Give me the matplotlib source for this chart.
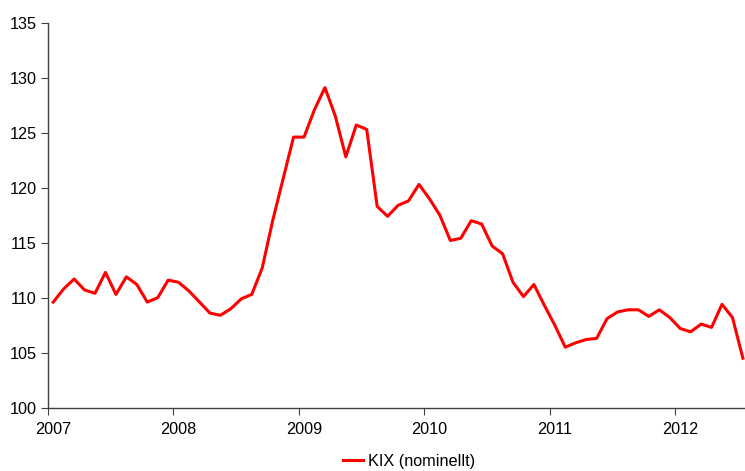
import matplotlib
matplotlib.use("Agg")
import matplotlib.pyplot as plt
import numpy as np

plt.rcParams["font.family"] = ["Liberation Sans", "DejaVu Sans"]

# Månadsvärden jan 2007 - jul 2012
kix = [
    109.6, 110.8, 111.7, 110.7, 110.4, 112.3, 110.3, 111.9, 111.2, 109.6, 110.0, 111.6,
    111.4, 110.6, 109.6, 108.6, 108.4, 109.0, 109.9, 110.3, 112.7, 117.0, 120.8, 124.6,
    124.6, 127.1, 129.1, 126.5, 122.8, 125.7, 125.3, 118.3, 117.4, 118.4, 118.8, 120.3,
    119.0, 117.5, 115.2, 115.4, 117.0, 116.7, 114.7, 114.0, 111.4, 110.1, 111.2, 109.3,
    107.5, 105.5, 105.9, 106.2, 106.3, 108.1, 108.7, 108.9, 108.9, 108.3, 108.9, 108.2,
    107.2, 106.9, 107.6, 107.3, 109.4, 108.2, 104.5,
]
years = ["2007", "2008", "2009", "2010", "2011", "2012"]
y_ticks = [100, 105, 110, 115, 120, 125, 130, 135]

x = np.arange(len(kix)) + 0.5

fig = plt.figure(figsize=(7.45, 4.71), dpi=100)
ax = fig.add_axes([48 / 745, (471 - 407.7) / 471, 1 - 48 / 745, (407.7 - 22.7) / 471])

ax.plot(x, kix, color="#ff0000", linewidth=2.2, label="KIX (nominellt)")

ax.set_xlim(0, 66.7)
ax.set_ylim(100, 135)
ax.set_yticks(y_ticks)

# årsgränser som streck, etiketter mitt på januari
ax.set_xticks(np.arange(0, 61, 12))
ax.set_xticklabels([])
ax.set_xticks(np.arange(0, 61, 12) + 0.5, minor=True)
ax.set_xticklabels(years, minor=True)
ax.tick_params(axis="x", which="minor", length=0, pad=10)
ax.tick_params(axis="x", which="major", length=5, direction="out", color="#404040")
ax.tick_params(axis="y", length=5, direction="out", color="#404040", pad=3)
ax.tick_params(which="both", labelsize=11.7, labelcolor="black")

for s in ["top", "right"]:
    ax.spines[s].set_visible(False)
for s in ["left", "bottom"]:
    ax.spines[s].set_color("#404040")
    ax.spines[s].set_linewidth(1)

fig.legend(loc="center", bbox_to_anchor=(0.549, 0.021), frameon=False,
           fontsize=11.7, handlelength=1.2, handletextpad=0.3)

fig.savefig("out.png", dpi=100)
